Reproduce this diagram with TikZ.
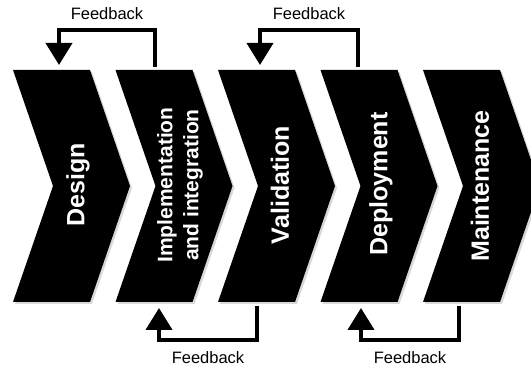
\documentclass[tikz,border=0pt]{standalone}
\usepackage{fontspec}
\setmainfont{Liberation Sans}
\usetikzlibrary{arrows.meta,shadows}

\begin{document}
\begin{tikzpicture}[x=1pt,y=-1pt,
	chev/.style={fill=black,drop shadow={shadow xshift=2pt,shadow yshift=-2pt,opacity=0.3}},
	phase/.style={rotate=90,text=white,font=\bfseries\fontsize{25}{28}\selectfont,align=center},
	feedback/.style={line width=4pt,-{Triangle[width=26pt,length=22pt]}},
	fblabel/.style={inner sep=0pt,font=\fontsize{16.5}{18}\selectfont}]
		\useasboundingbox (0,0) rectangle (531,366);
		
		\fill[chev] (13,70) -- ++(77,0) -- ++(40,116) -- ++(-40,116) -- ++(-77,0) -- ++(40,-116) -- cycle;
		\fill[chev] (115.5,70) -- ++(77,0) -- ++(40,116) -- ++(-40,116) -- ++(-77,0) -- ++(40,-116) -- cycle;
		\fill[chev] (218,70) -- ++(77,0) -- ++(40,116) -- ++(-40,116) -- ++(-77,0) -- ++(40,-116) -- cycle;
		\fill[chev] (320.5,70) -- ++(77,0) -- ++(40,116) -- ++(-40,116) -- ++(-77,0) -- ++(40,-116) -- cycle;
		\fill[chev] (423,70) -- ++(77,0) -- ++(40,116) -- ++(-40,116) -- ++(-77,0) -- ++(40,-116) -- cycle;
		
		\node[phase] (design) at (78,185) {Design};
		\node[phase,font=\bfseries\fontsize{21}{26}\selectfont] (impl) at (180,185) {Implementation\\and integration};
		\node[phase] (valid) at (280,185) {Validation};
		\node[phase] (deploy) at (381,184) {Deployment};
		\node[phase] (maint) at (480,186) {Maintenance};
		
		\coordinate (implTop) at (155,67);
		\coordinate (designTop) at (59,65);
		\coordinate (deployTop) at (358,67);
		\coordinate (validTop) at (260,65);
		\coordinate (validBot) at (257,306);
		\coordinate (implBot) at (159,308);
		\coordinate (maintBot) at (459,306);
		\coordinate (deployBot) at (361,308);
		
		\draw[feedback] (implTop) -- ++(0,-37) -| node[pos=0.25,above=8pt,fblabel] (fb1) {Feedback} (designTop);
		\draw[feedback] (deployTop) -- ++(0,-37) -| node[pos=0.25,above=8pt,fblabel] (fb2) {Feedback} (validTop);
		\draw[feedback] (validBot) -- ++(0,34) -| node[pos=0.25,below=10pt,fblabel] (fb3) {Feedback} (implBot);
		\draw[feedback] (maintBot) -- ++(0,34) -| node[pos=0.25,below=10pt,fblabel] (fb4) {Feedback} (deployBot);
\end{tikzpicture}
\end{document}
